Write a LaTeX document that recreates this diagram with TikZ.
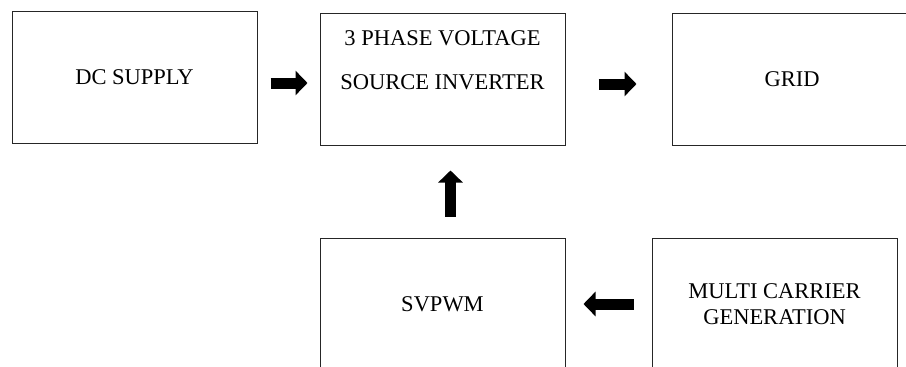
\documentclass[tikz,border=0pt]{standalone}
\usepackage{fontspec}
\setmainfont{Liberation Serif}
\usetikzlibrary{arrows.meta}
\tikzset{
    block/.style={draw=black!85, line width=1pt, minimum width=245pt, minimum height=132pt,
        inner sep=0pt, align=center, font=\fontsize{22.5}{26}\selectfont},
    fatarrow/.style={line width=11pt, -{Triangle[length=12pt,width=24pt]}}
}
\begin{document}
\begin{tikzpicture}[x=1pt,y=-1pt]
    \useasboundingbox (0,0) rectangle (906,367);
    \clip (0,0) rectangle (906,367);

    \node[block] (dc) at (134.5,77) {DC SUPPLY};
    \node[block] (vsi) at (442.5,79) {3 PHASE VOLTAGE\\[18pt]SOURCE INVERTER\\[12pt]\mbox{}};
    \node[block,minimum width=240pt] (grid) at (792,79) {GRID};
    \node[block] (svpwm) at (442.5,304) {SVPWM};
    \node[block] (mc) at (774.5,304) {MULTI CARRIER\\GENERATION};

    \draw [fatarrow,shorten <=13pt,shorten >=12pt] ([yshift=-6pt]dc.east) -- ([yshift=-6pt]dc.east -| vsi.west);
    \draw [fatarrow,shorten <=33pt,shorten >=35pt] ([yshift=-5pt]vsi.east) -- ([yshift=-5pt]vsi.east -| grid.west);
    \draw [fatarrow,shorten <=21pt,shorten >=25pt] ([xshift=8pt]svpwm.north) -- ([xshift=8pt]svpwm.north |- vsi.south);
    \draw [fatarrow,shorten <=18pt,shorten >=18pt] (mc.west) -- (svpwm.east);
\end{tikzpicture}
\end{document}
